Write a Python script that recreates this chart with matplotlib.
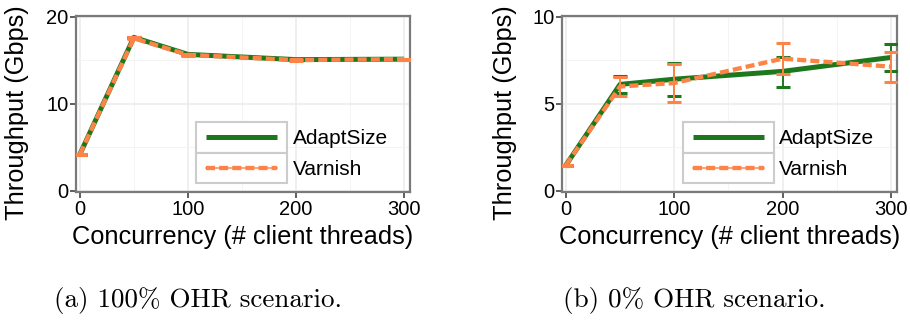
import numpy as np
import matplotlib
matplotlib.use('Agg')
import matplotlib.pyplot as plt
from matplotlib.ticker import MultipleLocator
from matplotlib.legend_handler import HandlerBase
from matplotlib.lines import Line2D
from matplotlib.patches import Rectangle

# concurrency levels (client threads)
threads = [0, 50, 100, 200, 300]

# (a) 100% OHR
a_adapt = [4.15, 17.6, 15.65, 15.05, 15.1]
a_adapt_lo = [4.08, 17.5, 15.57, 14.98, 15.03]
a_adapt_hi = [4.22, 17.7, 15.73, 15.12, 15.17]
a_varnish = [4.15, 17.5, 15.6, 15.0, 15.1]
a_varnish_lo = [4.08, 17.38, 15.52, 14.93, 15.03]
a_varnish_hi = [4.22, 17.62, 15.68, 15.07, 15.17]

# (b) 0% OHR
b_adapt = [1.45, 6.1, 6.4, 6.85, 7.65]
b_adapt_lo = [1.42, 5.6, 5.45, 5.95, 6.88]
b_adapt_hi = [1.48, 6.6, 7.35, 7.7, 8.42]
b_varnish = [1.45, 5.98, 6.18, 7.58, 7.12]
b_varnish_lo = [1.42, 5.45, 5.1, 6.68, 6.25]
b_varnish_hi = [1.48, 6.5, 7.25, 8.48, 7.94]

captions = ['(a) 100% OHR scenario.', '(b) 0% OHR scenario.']

GREEN = '#1d771d'
ORANGE = '#fd8446'
DASH = (2.1, 0.95)

plt.rcParams['font.family'] = ['Liberation Sans', 'DejaVu Sans']


class BoxedKey(HandlerBase):
    """ggplot-like legend key: grey bordered box with the line inside."""

    def __init__(self, thin=False):
        super().__init__()
        self.thin = thin

    def create_artists(self, legend, orig, xdescent, ydescent, width, height,
                       fontsize, trans):
        x0, y0 = -xdescent, -ydescent
        box = Rectangle((x0, y0), width, height, facecolor='white',
                        edgecolor='#cccccc', linewidth=1.5, transform=trans)
        ym = y0 + height / 2
        xs = [x0 + 0.11 * width, x0 + 0.89 * width]
        arts = [box]
        if self.thin:
            arts.append(Line2D(xs, [ym, ym], color=orig.get_color(), linewidth=1.3,
                               alpha=0.8, transform=trans))
        ln = Line2D(xs, [ym, ym], color=orig.get_color(),
                    linewidth=orig.get_linewidth(), linestyle=orig.get_linestyle(),
                    transform=trans)
        if orig.get_linestyle() != '-':
            ln.set_dashes(DASH)
        ln.set_solid_capstyle('butt')
        ln.set_dash_capstyle('butt')
        arts.append(ln)
        return arts


fig = plt.figure(figsize=(9.1, 3.2), dpi=100)
ax_a = fig.add_axes([76 / 910, 1 - 192 / 320, 334 / 910, 176 / 320])
ax_b = fig.add_axes([562 / 910, 1 - 192 / 320, 335 / 910, 176 / 320])


def draw(ax, adapt, adapt_lo, adapt_hi, varnish, var_lo, var_hi, ymax, ystep, ylab_x):
    ax.set_facecolor('white')
    (l_ad,) = ax.plot(threads, adapt, color=GREEN, linewidth=3.6, solid_capstyle='butt',
                      label='AdaptSize', zorder=3)
    ad = np.array(adapt)
    ax.errorbar(threads, adapt, yerr=[ad - np.array(adapt_lo), np.array(adapt_hi) - ad],
                fmt='none', ecolor=GREEN, elinewidth=1.4, capsize=4.8, capthick=2.2, zorder=3)
    vr = np.array(varnish)
    ax.errorbar(threads, varnish, yerr=[vr - np.array(var_lo), np.array(var_hi) - vr],
                fmt='none', ecolor=ORANGE, elinewidth=1.4, capsize=4.8, capthick=2.2, zorder=4)
    (l_vr,) = ax.plot(threads, varnish, color=ORANGE, linewidth=3.1, dashes=DASH,
                      dash_capstyle='butt', label='Varnish', zorder=4)

    ax.set_xlim(-3.5, 305.5)
    ax.set_ylim(-0.008 * ymax, ymax * 1.003)
    ax.set_xticks([0, 100, 200, 300])
    ax.xaxis.set_minor_locator(MultipleLocator(50))
    ax.yaxis.set_major_locator(MultipleLocator(ystep))
    ax.yaxis.set_minor_locator(MultipleLocator(ystep / 2))
    ax.grid(which='major', color='#ebebeb', linewidth=1.1, zorder=0)
    ax.grid(which='minor', color='#f4f4f4', linewidth=0.7, zorder=0)
    ax.set_axisbelow(True)
    ax.tick_params(which='major', direction='out', length=4, width=1.1,
                   color='#333333', labelsize=14.5, pad=1.5, labelcolor='black')
    ax.tick_params(which='minor', length=0)
    for s in ax.spines.values():
        s.set_color('#7a7a7a')
        s.set_linewidth(1.6)
    ax.set_xlabel('Concurrency (# client threads)', fontsize=18.3, va='top')
    ax.xaxis.set_label_coords(0.5, -0.19)
    ax.set_ylabel('Throughput (Gbps)', fontsize=18.3, va='center')
    ax.yaxis.set_label_coords(ylab_x, 0.45)

    leg = ax.legend([l_ad, l_vr], ['AdaptSize', 'Varnish'], loc='lower left',
                    bbox_to_anchor=(0.36, 0.05), fontsize=15, frameon=False,
                    handlelength=91 / 20.8, handleheight=1.875,
                    borderpad=0, labelspacing=0, handletextpad=0.27,
                    borderaxespad=0,
                    handler_map={l_ad: BoxedKey(), l_vr: BoxedKey(thin=True)})
    leg.set_zorder(6)


draw(ax_a, a_adapt, a_adapt_lo, a_adapt_hi, a_varnish, a_varnish_lo, a_varnish_hi,
     20, 10, -0.177)
draw(ax_b, b_adapt, b_adapt_lo, b_adapt_hi, b_varnish, b_varnish_lo, b_varnish_hi,
     10, 5, -0.170)

fig.text(198 / 910, 1 - 307 / 320, captions[0], family='cmr10', fontsize=19.5,
         ha='center', va='baseline')
fig.text(694 / 910, 1 - 307 / 320, captions[1], family='cmr10', fontsize=19.5,
         ha='center', va='baseline')

fig.savefig('out.png', dpi=100)
